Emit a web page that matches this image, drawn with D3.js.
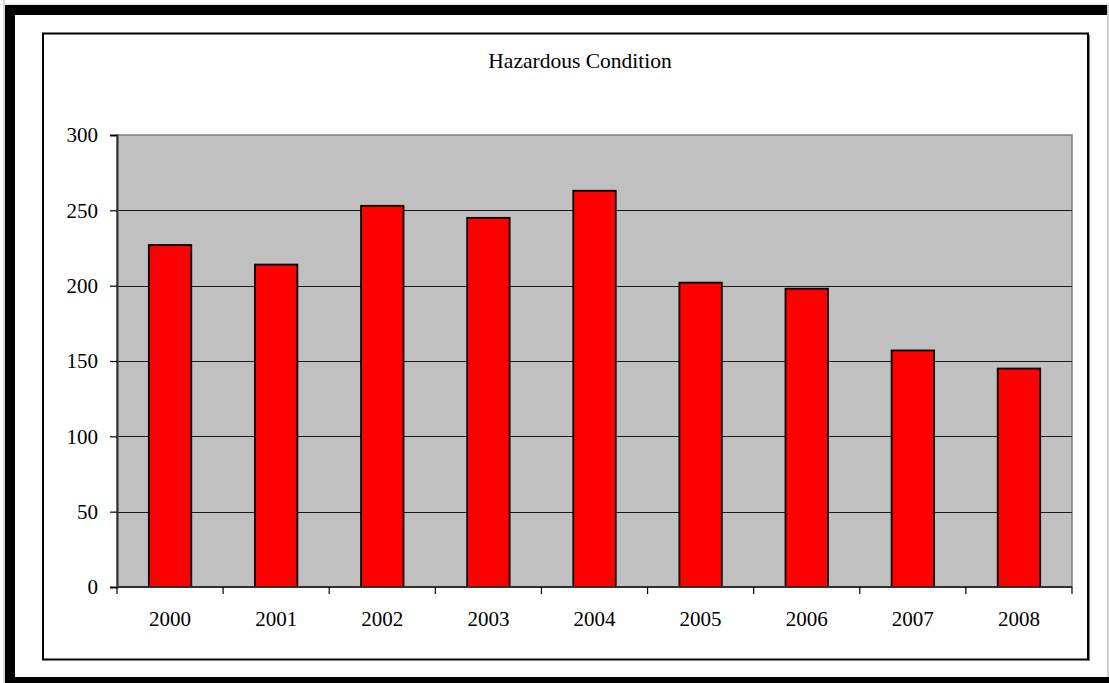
<!DOCTYPE html>
<html>
<head>
<meta charset="utf-8">
<script src="https://cdn.jsdelivr.net/npm/d3@7/dist/d3.min.js"></script>
<style>
  html, body { margin: 0; padding: 0; background: #ffffff; }
  svg { display: block; }
  text { font-family: "Liberation Serif", "Times New Roman", serif; fill: #000; }
</style>
</head>
<body>
<svg id="chart" width="1109" height="683"></svg>
<script>
// Hazardous condition incidents per year
const years = ["2000", "2001", "2002", "2003", "2004", "2005", "2006", "2007", "2008"];
const incidents = [227, 214, 253, 245, 263, 202, 198, 157, 145];
const yTicks = [0, 50, 100, 150, 200, 250, 300];
const chartTitle = "Hazardous Condition";

const svg = d3.select("#chart");
const W = 1109, H = 683;

// page frame: light edge plus heavy black border
svg.append("rect").attr("x", 0).attr("y", 0).attr("width", W).attr("height", H).attr("fill", "#ffffff");
svg.append("line").attr("x1", 4).attr("x2", 4).attr("y1", 0).attr("y2", H).attr("stroke", "#b0b0b0").attr("stroke-width", 1);
svg.append("line").attr("x1", 0).attr("x2", W).attr("y1", 4).attr("y2", 4).attr("stroke", "#e0e0e0").attr("stroke-width", 1);
svg.append("line").attr("x1", 1108).attr("x2", 1108).attr("y1", 5).attr("y2", H).attr("stroke", "#a0a0a0").attr("stroke-width", 1);
svg.append("rect").attr("x", 5).attr("y", 5).attr("width", 10).attr("height", H).attr("fill", "#000");
svg.append("rect").attr("x", 5).attr("y", 5).attr("width", 1102).attr("height", 10).attr("fill", "#000");
svg.append("rect").attr("x", 5).attr("y", 677).attr("width", 1104).attr("height", 10).attr("fill", "#000");

// chart area border
svg.append("rect")
  .attr("x", 43).attr("y", 33.5).attr("width", 1045).attr("height", 626)
  .attr("fill", "#ffffff").attr("stroke", "#000").attr("stroke-width", 2);
svg.append("line").attr("x1", 1089.5).attr("x2", 1089.5).attr("y1", 35).attr("y2", 661)
  .attr("stroke", "#808080").attr("stroke-width", 1);

// plot area
const plot = { left: 117, right: 1072, top: 135, bottom: 587 };

const x = d3.scaleBand()
  .domain(years)
  .range([plot.left, plot.right])
  .paddingInner(0.6)
  .paddingOuter(0.3);

const y = d3.scaleLinear()
  .domain([0, 300])
  .range([plot.bottom, plot.top]);

svg.append("rect")
  .attr("x", plot.left).attr("y", plot.top)
  .attr("width", plot.right - plot.left).attr("height", plot.bottom - plot.top)
  .attr("fill", "#c0c0c0").attr("stroke", "#808080").attr("stroke-width", 1.5);

// horizontal gridlines
svg.append("g")
  .selectAll("line")
  .data(yTicks.filter(t => t > 0 && t < 300))
  .join("line")
  .attr("x1", plot.left).attr("x2", plot.right)
  .attr("y1", d => Math.round(y(d)) + 0.5).attr("y2", d => Math.round(y(d)) + 0.5)
  .attr("stroke", "#1a1a1a").attr("stroke-width", 1.2);

// bars
svg.append("g")
  .selectAll("rect")
  .data(incidents)
  .join("rect")
  .attr("x", (d, i) => x(years[i]))
  .attr("y", d => y(d))
  .attr("width", x.bandwidth())
  .attr("height", d => y(0) - y(d))
  .attr("fill", "#ff0000")
  .attr("stroke", "#000")
  .attr("stroke-width", 1.8);

// y axis
const yAxis = d3.axisLeft(y).tickValues(yTicks).tickSize(7).tickPadding(12).tickFormat(d3.format("d"));
const gy = svg.append("g").attr("transform", `translate(${plot.left},0)`).call(yAxis);
gy.select(".domain").attr("stroke", "#303030").attr("stroke-width", 2);
gy.selectAll(".tick line").attr("stroke", "#000").attr("stroke-width", 1.2);
gy.selectAll(".tick text").attr("font-size", 21).attr("font-family", "Liberation Serif, serif").attr("dy", "0.33em");

// x axis: category labels with boundary ticks
const gx = svg.append("g").attr("transform", `translate(0,${plot.bottom})`);
gx.append("line").attr("x1", plot.left).attr("x2", plot.right).attr("y1", 0).attr("y2", 0)
  .attr("stroke", "#303030").attr("stroke-width", 2);
const bounds = d3.range(years.length + 1).map(i => plot.left + i * (plot.right - plot.left) / years.length);
gx.selectAll("line.b").data(bounds).join("line").attr("class", "b")
  .attr("x1", d => d).attr("x2", d => d).attr("y1", 0).attr("y2", 7)
  .attr("stroke", "#000").attr("stroke-width", 1.2);
gx.selectAll("text").data(years).join("text")
  .attr("x", d => x(d) + x.bandwidth() / 2)
  .attr("y", 39)
  .attr("text-anchor", "middle")
  .attr("font-size", 21)
  .text(d => d);

// title
svg.append("text")
  .attr("x", 580).attr("y", 68)
  .attr("text-anchor", "middle")
  .attr("font-size", 21.5)
  .text(chartTitle);
</script>
</body>
</html>
